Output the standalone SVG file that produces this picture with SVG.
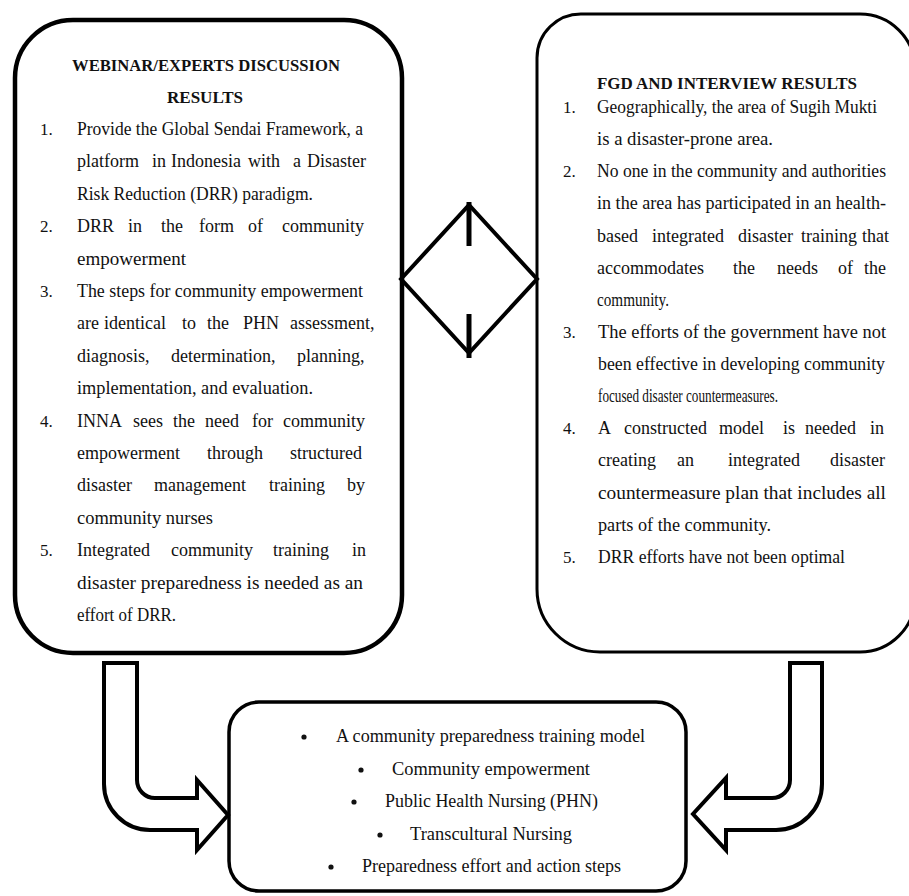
<svg xmlns="http://www.w3.org/2000/svg" width="909" height="896" viewBox="0 0 909 896">
<style>
.box{fill:#fff;stroke:#000;stroke-linejoin:round}
.t{font-family:"Liberation Serif","Times New Roman",serif;font-size:18px;fill:#111}
.n{font-family:"Liberation Serif","Times New Roman",serif;font-size:17px;fill:#111}
.h{font-family:"Liberation Serif","Times New Roman",serif;font-size:16px;font-weight:bold;fill:#111}
.arrow{fill:#fff;stroke:#000;stroke-width:4;stroke-linejoin:miter}
.dia{fill:none;stroke:#000;stroke-width:4;stroke-linejoin:miter}
.tick{stroke:#000;stroke-width:5}
</style>
<rect width="909" height="896" fill="#fff"/>

<g id="webinar-box">
<rect class="box" x="15" y="20" width="387" height="633" rx="58" ry="58" stroke-width="4.5"/>
<text class="h" x="72" y="71" textLength="268" lengthAdjust="spacingAndGlyphs">WEBINAR/EXPERTS DISCUSSION</text>
<text class="h" x="167" y="103" textLength="76" lengthAdjust="spacingAndGlyphs">RESULTS</text>
<text class="n" x="40" y="135">1.</text>
<text class="n" x="40" y="232">2.</text>
<text class="n" x="40" y="297">3.</text>
<text class="n" x="40" y="427">4.</text>
<text class="n" x="40" y="556">5.</text>
<text class="t" x="77" y="135" textLength="286" lengthAdjust="spacingAndGlyphs">Provide the Global Sendai Framework, a</text>
<text class="t" y="167"><tspan x="77">platform</tspan><tspan x="152">in</tspan><tspan x="171">Indonesia</tspan><tspan x="248">with</tspan><tspan x="293">a</tspan><tspan x="307">Disaster</tspan></text>
<text class="t" x="77" y="200" textLength="236" lengthAdjust="spacingAndGlyphs">Risk Reduction (DRR) paradigm.</text>
<text class="t" y="232"><tspan x="77">DRR</tspan><tspan x="128">in</tspan><tspan x="161">the</tspan><tspan x="199">form</tspan><tspan x="248">of</tspan><tspan x="282">community</tspan></text>
<text class="t" x="77" y="265" textLength="109" lengthAdjust="spacingAndGlyphs">empowerment</text>
<text class="t" x="77" y="297" textLength="286" lengthAdjust="spacingAndGlyphs">The steps for community empowerment</text>
<text class="t" y="329"><tspan x="77">are</tspan><tspan x="104">identical</tspan><tspan x="182">to</tspan><tspan x="207">the</tspan><tspan x="243">PHN</tspan><tspan x="290">assessment,</tspan></text>
<text class="t" y="362"><tspan x="77">diagnosis,</tspan><tspan x="171">determination,</tspan><tspan x="297">planning,</tspan></text>
<text class="t" x="77" y="394" textLength="236" lengthAdjust="spacingAndGlyphs">implementation, and evaluation.</text>
<text class="t" y="427"><tspan x="77">INNA</tspan><tspan x="133">sees</tspan><tspan x="173">the</tspan><tspan x="205">need</tspan><tspan x="252">for</tspan><tspan x="283">community</tspan></text>
<text class="t" y="459"><tspan x="77">empowerment</tspan><tspan x="207">through</tspan><tspan x="290">structured</tspan></text>
<text class="t" y="491"><tspan x="77">disaster</tspan><tspan x="154">management</tspan><tspan x="269">training</tspan><tspan x="347">by</tspan></text>
<text class="t" x="77" y="524" textLength="136" lengthAdjust="spacingAndGlyphs">community nurses</text>
<text class="t" y="556"><tspan x="77">Integrated</tspan><tspan x="171">community</tspan><tspan x="273">training</tspan><tspan x="352">in</tspan></text>
<text class="t" x="77" y="589" textLength="286" lengthAdjust="spacingAndGlyphs">disaster preparedness is needed as an</text>
<text class="t" x="77" y="621" textLength="99" lengthAdjust="spacingAndGlyphs">effort of DRR.</text>
</g>

<g id="fgd-box">
<path class="box" stroke-width="3" d="M 582 14 H 860 A 55 55 0 0 1 915 69 V 597 A 55 55 0 0 1 860 652 H 600 A 63 63 0 0 1 537 589 V 58 A 44 44 0 0 1 582 14 Z"/>
<text class="h" x="597" y="89" textLength="260" lengthAdjust="spacingAndGlyphs">FGD AND INTERVIEW RESULTS</text>
<text class="n" x="563" y="113">1.</text>
<text class="n" x="563" y="177">2.</text>
<text class="n" x="563" y="338">3.</text>
<text class="n" x="563" y="434">4.</text>
<text class="n" x="563" y="563">5.</text>
<text class="t" x="597" y="113" textLength="280" lengthAdjust="spacingAndGlyphs">Geographically, the area of Sugih Mukti</text>
<text class="t" x="597" y="145" textLength="176" lengthAdjust="spacingAndGlyphs">is a disaster-prone area.</text>
<text class="t" x="597" y="177" textLength="289" lengthAdjust="spacingAndGlyphs">No one in the community and authorities</text>
<text class="t" x="597" y="209" textLength="289" lengthAdjust="spacingAndGlyphs">in the area has participated in an health-</text>
<text class="t" y="242"><tspan x="597">based</tspan><tspan x="652">integrated</tspan><tspan x="738">disaster</tspan><tspan x="801">training</tspan><tspan x="862">that</tspan></text>
<text class="t" y="274"><tspan x="597">accommodates</tspan><tspan x="733">the</tspan><tspan x="777">needs</tspan><tspan x="838">of</tspan><tspan x="864">the</tspan></text>
<text class="t" x="597" y="306" textLength="72" lengthAdjust="spacingAndGlyphs">community.</text>
<text class="t" x="598" y="338" textLength="288" lengthAdjust="spacingAndGlyphs">The efforts of the government have not</text>
<text class="t" x="598" y="370" textLength="287" lengthAdjust="spacingAndGlyphs">been effective in developing community</text>
<text class="t" x="598" y="402" textLength="180" lengthAdjust="spacingAndGlyphs">focused disaster countermeasures.</text>
<text class="t" y="434"><tspan x="598">A</tspan><tspan x="624">constructed</tspan><tspan x="719">model</tspan><tspan x="783">is</tspan><tspan x="805">needed</tspan><tspan x="870">in</tspan></text>
<text class="t" y="466"><tspan x="598">creating</tspan><tspan x="677">an</tspan><tspan x="728">integrated</tspan><tspan x="830">disaster</tspan></text>
<text class="t" x="598" y="499" textLength="288" lengthAdjust="spacingAndGlyphs">countermeasure plan that includes all</text>
<text class="t" x="598" y="531" textLength="173" lengthAdjust="spacingAndGlyphs">parts of the community.</text>
<text class="t" x="598" y="563" textLength="247" lengthAdjust="spacingAndGlyphs">DRR efforts have not been optimal</text>
</g>

<g id="model-box">
<rect class="box" x="229" y="702" width="457" height="189" rx="30" ry="30" stroke-width="3.5"/>
<circle cx="304" cy="737" r="2.6" fill="#111"/>
<circle cx="361" cy="770" r="2.6" fill="#111"/>
<circle cx="354" cy="802" r="2.6" fill="#111"/>
<circle cx="380" cy="835" r="2.6" fill="#111"/>
<circle cx="331" cy="867" r="2.6" fill="#111"/>
<text class="t" x="336" y="742" textLength="309" lengthAdjust="spacingAndGlyphs">A community preparedness training model</text>
<text class="t" x="392" y="775" textLength="198" lengthAdjust="spacingAndGlyphs">Community empowerment</text>
<text class="t" x="385" y="807" textLength="213" lengthAdjust="spacingAndGlyphs">Public Health Nursing (PHN)</text>
<text class="t" x="410" y="840" textLength="162" lengthAdjust="spacingAndGlyphs">Transcultural Nursing</text>
<text class="t" x="362" y="872" textLength="259" lengthAdjust="spacingAndGlyphs">Preparedness effort and action steps</text>
</g>

<g id="connectors">
<polygon class="dia" points="401,279 469,205 537,279 469,353"/>
<line class="tick" x1="469" y1="202" x2="469" y2="246"/>
<line class="tick" x1="469" y1="314" x2="469" y2="358"/>
<path class="arrow" d="M 104 663 H 137 V 780 A 18 18 0 0 0 155 798 H 197 V 780 L 228 815 L 197 850 V 830 H 150 A 46 46 0 0 1 104 784 Z"/>
<path class="arrow" d="M 822 663 H 790 V 780 A 18 18 0 0 1 772 798 H 726 V 778 L 693 814 L 726 850 V 830 H 776 A 46 46 0 0 0 822 784 Z"/>
</g>
</svg>
